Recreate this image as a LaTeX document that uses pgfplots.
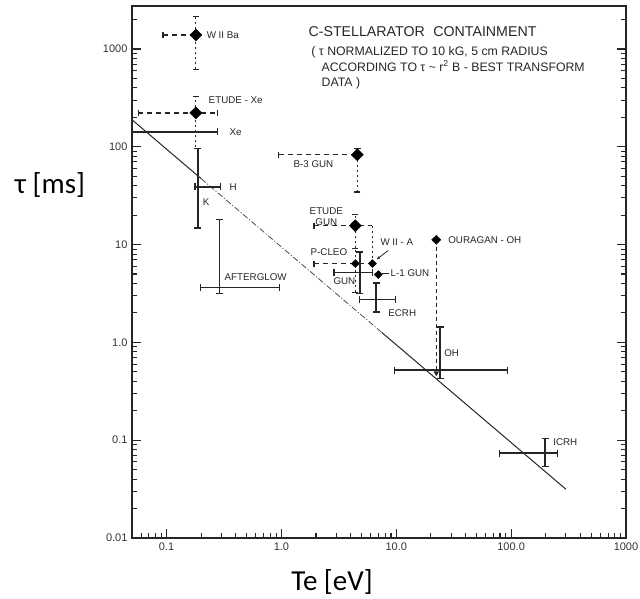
\documentclass[border=0pt]{standalone}
\usepackage{pgfplots}
\pgfplotsset{compat=1.18}
\usetikzlibrary{arrows.meta}
\usepackage{fontspec}
\setmainfont{Liberation Sans}
\newfontfamily\labelfont{Carlito}

\pgfplotsset{
  ebar/.style={black!85, line width=1.7pt, {Bar[width=7pt,line width=1.2pt]}-{Bar[width=7pt,line width=1.2pt]}},
  ebarR/.style={black!85, line width=1.7pt, -{Bar[width=7pt,line width=1.2pt]}},
  dashh/.style={black!85, line width=1.3pt, dash pattern=on 5pt off 4pt},
  dotv/.style={black!85, line width=1.2pt, dash pattern=on 2pt off 3pt},
  lbar/.style={{Bar[width=6pt,line width=1.1pt]}-},
  rbar/.style={-{Bar[width=6pt,line width=1.1pt]}},
  bbar/.style={{Bar[width=6pt,line width=1.1pt]}-{Bar[width=6pt,line width=1.1pt]}},
  bigdia/.style={only marks, mark=diamond*, mark size=6pt, mark options={xscale=1.35, fill=black, draw=black}},
  smalldia/.style={only marks, mark=diamond*, mark size=4pt, mark options={xscale=1.35, fill=black, draw=black}},
  % tick combs along the frame
  ltick/.style={only marks, forget plot, mark=-, mark size=#1, mark options={xshift=#1, line width=1.1pt, black!85}},
  rtick/.style={only marks, forget plot, mark=-, mark size=#1, mark options={xshift=-#1, line width=1.1pt, black!85}},
  btick/.style={only marks, forget plot, mark=|, mark size=#1, mark options={yshift=#1, line width=1.1pt, black!85}},
}
\tikzset{lab/.style={font=\fontsize{9.8}{11}\selectfont, inner sep=0pt, text=black!85}}

\begin{document}
\begin{tikzpicture}
\useasboundingbox (-132pt,-61pt) rectangle (508pt,538pt);
\begin{axis}[
  at={(0pt,0pt)}, anchor=south west,
  scale only axis, width=494pt, height=532pt,
  xmode=log, ymode=log,
  xmin=0.05, xmax=1000, ymin=0.01, ymax=2750,
  axis line style={line width=1.1pt, black!85},
  xtick={0.1,1,10,100,1000}, xticklabels={0.1,1.0,10.0,100.0,1000},
  ytick={0.01,0.1,1,10,100,1000}, yticklabels={0.01,0.1,1.0,10,100,1000},
  xtick pos=left, ytick pos=left, tick align=inside,
  major tick length=9pt,
  every tick/.style={black!85, line width=1.1pt},
  tick label style={font=\fontsize{11}{13}\selectfont, text=black!80},
  xticklabel style={yshift=-1pt},
  yticklabel style={xshift=-1pt},
  xlabel={Te [eV]}, ylabel={τ [ms]},
  every axis x label/.style={at={(axis description cs:0.405,-0.083)}, anchor=center, font=\labelfont\fontsize{29}{32}\selectfont},
  every axis y label/.style={at={(axis description cs:-0.166,0.664)}, anchor=center, font=\labelfont\fontsize{29}{32}\selectfont},
  clip=false,
]

% frame ticks: decades (long) and 2..9 subdivisions (short)
\addplot[ltick=4.5pt] coordinates {(0.05,0.1) (0.05,1) (0.05,10) (0.05,100) (0.05,1000)};
\addplot[rtick=4.5pt] coordinates {(1000,0.1) (1000,1) (1000,10) (1000,100) (1000,1000)};
\addplot[btick=4.5pt] coordinates {(0.1,0.01) (1,0.01) (10,0.01) (100,0.01)};
\addplot[ltick=2.5pt] coordinates {
 (0.05,0.02) (0.05,0.03) (0.05,0.04) (0.05,0.05) (0.05,0.06) (0.05,0.07) (0.05,0.08) (0.05,0.09)
 (0.05,0.2) (0.05,0.3) (0.05,0.4) (0.05,0.5) (0.05,0.6) (0.05,0.7) (0.05,0.8) (0.05,0.9)
 (0.05,2) (0.05,3) (0.05,4) (0.05,5) (0.05,6) (0.05,7) (0.05,8) (0.05,9)
 (0.05,20) (0.05,30) (0.05,40) (0.05,50) (0.05,60) (0.05,70) (0.05,80) (0.05,90)
 (0.05,200) (0.05,300) (0.05,400) (0.05,500) (0.05,600) (0.05,700) (0.05,800) (0.05,900) (0.05,2000)};
\addplot[rtick=2.5pt] coordinates {
 (1000,0.02) (1000,0.03) (1000,0.04) (1000,0.05) (1000,0.06) (1000,0.07) (1000,0.08) (1000,0.09)
 (1000,0.2) (1000,0.3) (1000,0.4) (1000,0.5) (1000,0.6) (1000,0.7) (1000,0.8) (1000,0.9)
 (1000,2) (1000,3) (1000,4) (1000,5) (1000,6) (1000,7) (1000,8) (1000,9)
 (1000,20) (1000,30) (1000,40) (1000,50) (1000,60) (1000,70) (1000,80) (1000,90)
 (1000,200) (1000,300) (1000,400) (1000,500) (1000,600) (1000,700) (1000,800) (1000,900) (1000,2000)};
\addplot[btick=2.5pt] coordinates {
 (0.06,0.01) (0.07,0.01) (0.08,0.01) (0.09,0.01)
 (0.2,0.01) (0.3,0.01) (0.4,0.01) (0.5,0.01) (0.6,0.01) (0.7,0.01) (0.8,0.01) (0.9,0.01)
 (2,0.01) (3,0.01) (4,0.01) (5,0.01) (6,0.01) (7,0.01) (8,0.01) (9,0.01)
 (20,0.01) (30,0.01) (40,0.01) (50,0.01) (60,0.01) (70,0.01) (80,0.01) (90,0.01)
 (200,0.01) (300,0.01) (400,0.01) (500,0.01) (600,0.01) (700,0.01) (800,0.01) (900,0.01)};

% scaling law tau ~ 1/Te
\addplot[black!85, line width=1pt] coordinates {(0.05,189) (0.2,47.25)};
\addplot[black!70, line width=0.8pt, dash pattern=on 6pt off 2pt on 1pt off 2pt] coordinates {(0.2,47.25) (7.5,1.26)};
\addplot[black!85, line width=1pt] coordinates {(7.5,1.26) (300,0.0315)};

% W II Ba
\addplot[dashh, lbar] coordinates {(0.092,1390) (0.18,1390)};
\addplot[dotv, bbar] coordinates {(0.18,611) (0.18,2170)};
\addplot[bigdia] coordinates {(0.18,1390)};

% ETUDE - Xe
\addplot[dashh, bbar] coordinates {(0.056,222) (0.283,222)};
\addplot[dotv, rbar] coordinates {(0.18,100) (0.18,331)};
\addplot[bigdia] coordinates {(0.18,222)};

% Xe, H, K
\addplot[ebarR] coordinates {(0.05,142) (0.28,142)};
\addplot[ebar] coordinates {(0.175,39) (0.30,39)};
\addplot[ebar] coordinates {(0.187,14.6) (0.187,98)};

% afterglow
\addplot[ebar] coordinates {(0.289,3.09) (0.289,18.4)};
\addplot[ebar] coordinates {(0.194,3.64) (0.98,3.64)};

% B-3 gun
\addplot[dashh, lbar] coordinates {(0.94,82.8) (4.58,82.8)};
\addplot[ebarR] coordinates {(4.58,82.8) (4.58,98)};
\addplot[dotv, lbar] coordinates {(4.58,34) (4.58,82.8)};
\addplot[bigdia] coordinates {(4.58,82.8)};

% ETUDE gun
\addplot[dashh, lbar] coordinates {(1.9,15.6) (6.2,15.6)};
\addplot[dotv] coordinates {(6.2,15.6) (6.2,7.2)};
\addplot[dotv, rbar] coordinates {(4.4,9.3) (4.4,20.7)};
\addplot[bigdia] coordinates {(4.4,15.6)};

% P-CLEO and W II-A
\addplot[dashh, lbar] coordinates {(1.9,6.4) (6.2,6.4)};
\addplot[dotv, bbar] coordinates {(4.4,3.2) (4.4,9.3)};
\addplot[smalldia] coordinates {(4.4,6.4)};
\addplot[smalldia] coordinates {(6.2,6.4)};
\addplot[black!85, line width=0.8pt, -{Latex[length=4pt]}] coordinates {(8.5,8.7) (6.7,7.0)};

% gun
\addplot[ebar] coordinates {(2.83,5.18) (6.3,5.18)};
\addplot[ebar] coordinates {(4.8,3.1) (4.8,8.5)};

% L-1 gun
\addplot[smalldia] coordinates {(6.97,4.94)};
\addplot[black!85, line width=0.9pt] coordinates {(7.55,5.1) (8.6,5.1)};

% ECRH
\addplot[ebar] coordinates {(6.7,2.02) (6.7,4.1)};
\addplot[ebar] coordinates {(4.76,2.75) (10,2.75)};

% OURAGAN - OH
\addplot[dashh, dash pattern=on 4pt off 3pt, -{Triangle[length=5pt,width=5pt]}] coordinates {(22.3,11.2) (22.3,0.45)};
\addplot[smalldia, mark size=4.5pt] coordinates {(22.3,11.2)};

% OH
\addplot[ebar] coordinates {(24.1,0.42) (24.1,1.46)};
\addplot[ebar] coordinates {(9.6,0.52) (94,0.52)};

% ICRH
\addplot[ebar] coordinates {(78.7,0.0736) (256,0.0736)};
\addplot[ebar] coordinates {(198,0.053) (198,0.105)};

% labels
\node[lab, anchor=west] at (axis cs:0.223,1390) {W II Ba};
\node[lab, anchor=west] at (axis cs:0.232,302) {ETUDE - Xe};
\node[lab, anchor=west] at (axis cs:0.353,142) {Xe};
\node[lab, anchor=west] at (axis cs:0.353,39) {H};
\node[lab, anchor=west] at (axis cs:0.206,27.4) {K};
\node[lab, anchor=west] at (axis cs:0.319,4.6) {AFTERGLOW};
\node[lab, anchor=west] at (axis cs:1.27,67) {B-3 GUN};
\node[lab, align=center, anchor=center] at (axis cs:2.46,19.3) {ETUDE\\GUN};
\node[lab, anchor=west] at (axis cs:1.79,8.3) {P-CLEO};
\node[lab, anchor=west] at (axis cs:2.83,4.19) {GUN};
\node[lab, anchor=west] at (axis cs:7.26,10.5) {W II - A};
\node[lab, anchor=west] at (axis cs:8.9,5.1) {L-1 GUN};
\node[lab, anchor=west] at (axis cs:8.5,1.98) {ECRH};
\node[lab, anchor=west] at (axis cs:28.3,11.2) {OURAGAN - OH};
\node[lab, anchor=west] at (axis cs:26.1,0.77) {OH};
\node[lab, anchor=west] at (axis cs:232,0.095) {ICRH};

% heading
\node[inner sep=0pt, anchor=west, font=\fontsize{14.2}{16}\selectfont, text=black!85] at (axis cs:1.717,1490) {C-STELLARATOR\hspace{0.6em}CONTAINMENT};
\node[inner sep=0pt, anchor=west, font=\fontsize{12.3}{14}\selectfont, text=black!85] at (axis cs:1.82,932) {( τ NORMALIZED TO 10 kG, 5 cm RADIUS};
\node[inner sep=0pt, anchor=west, font=\fontsize{12.3}{14}\selectfont, text=black!85] at (axis cs:2.23,671) {ACCORDING TO τ \~{} r\textsuperscript{2} B - BEST TRANSFORM};
\node[inner sep=0pt, anchor=west, font=\fontsize{12.3}{14}\selectfont, text=black!85] at (axis cs:2.23,450) {DATA )};
\end{axis}
\end{tikzpicture}
\end{document}
